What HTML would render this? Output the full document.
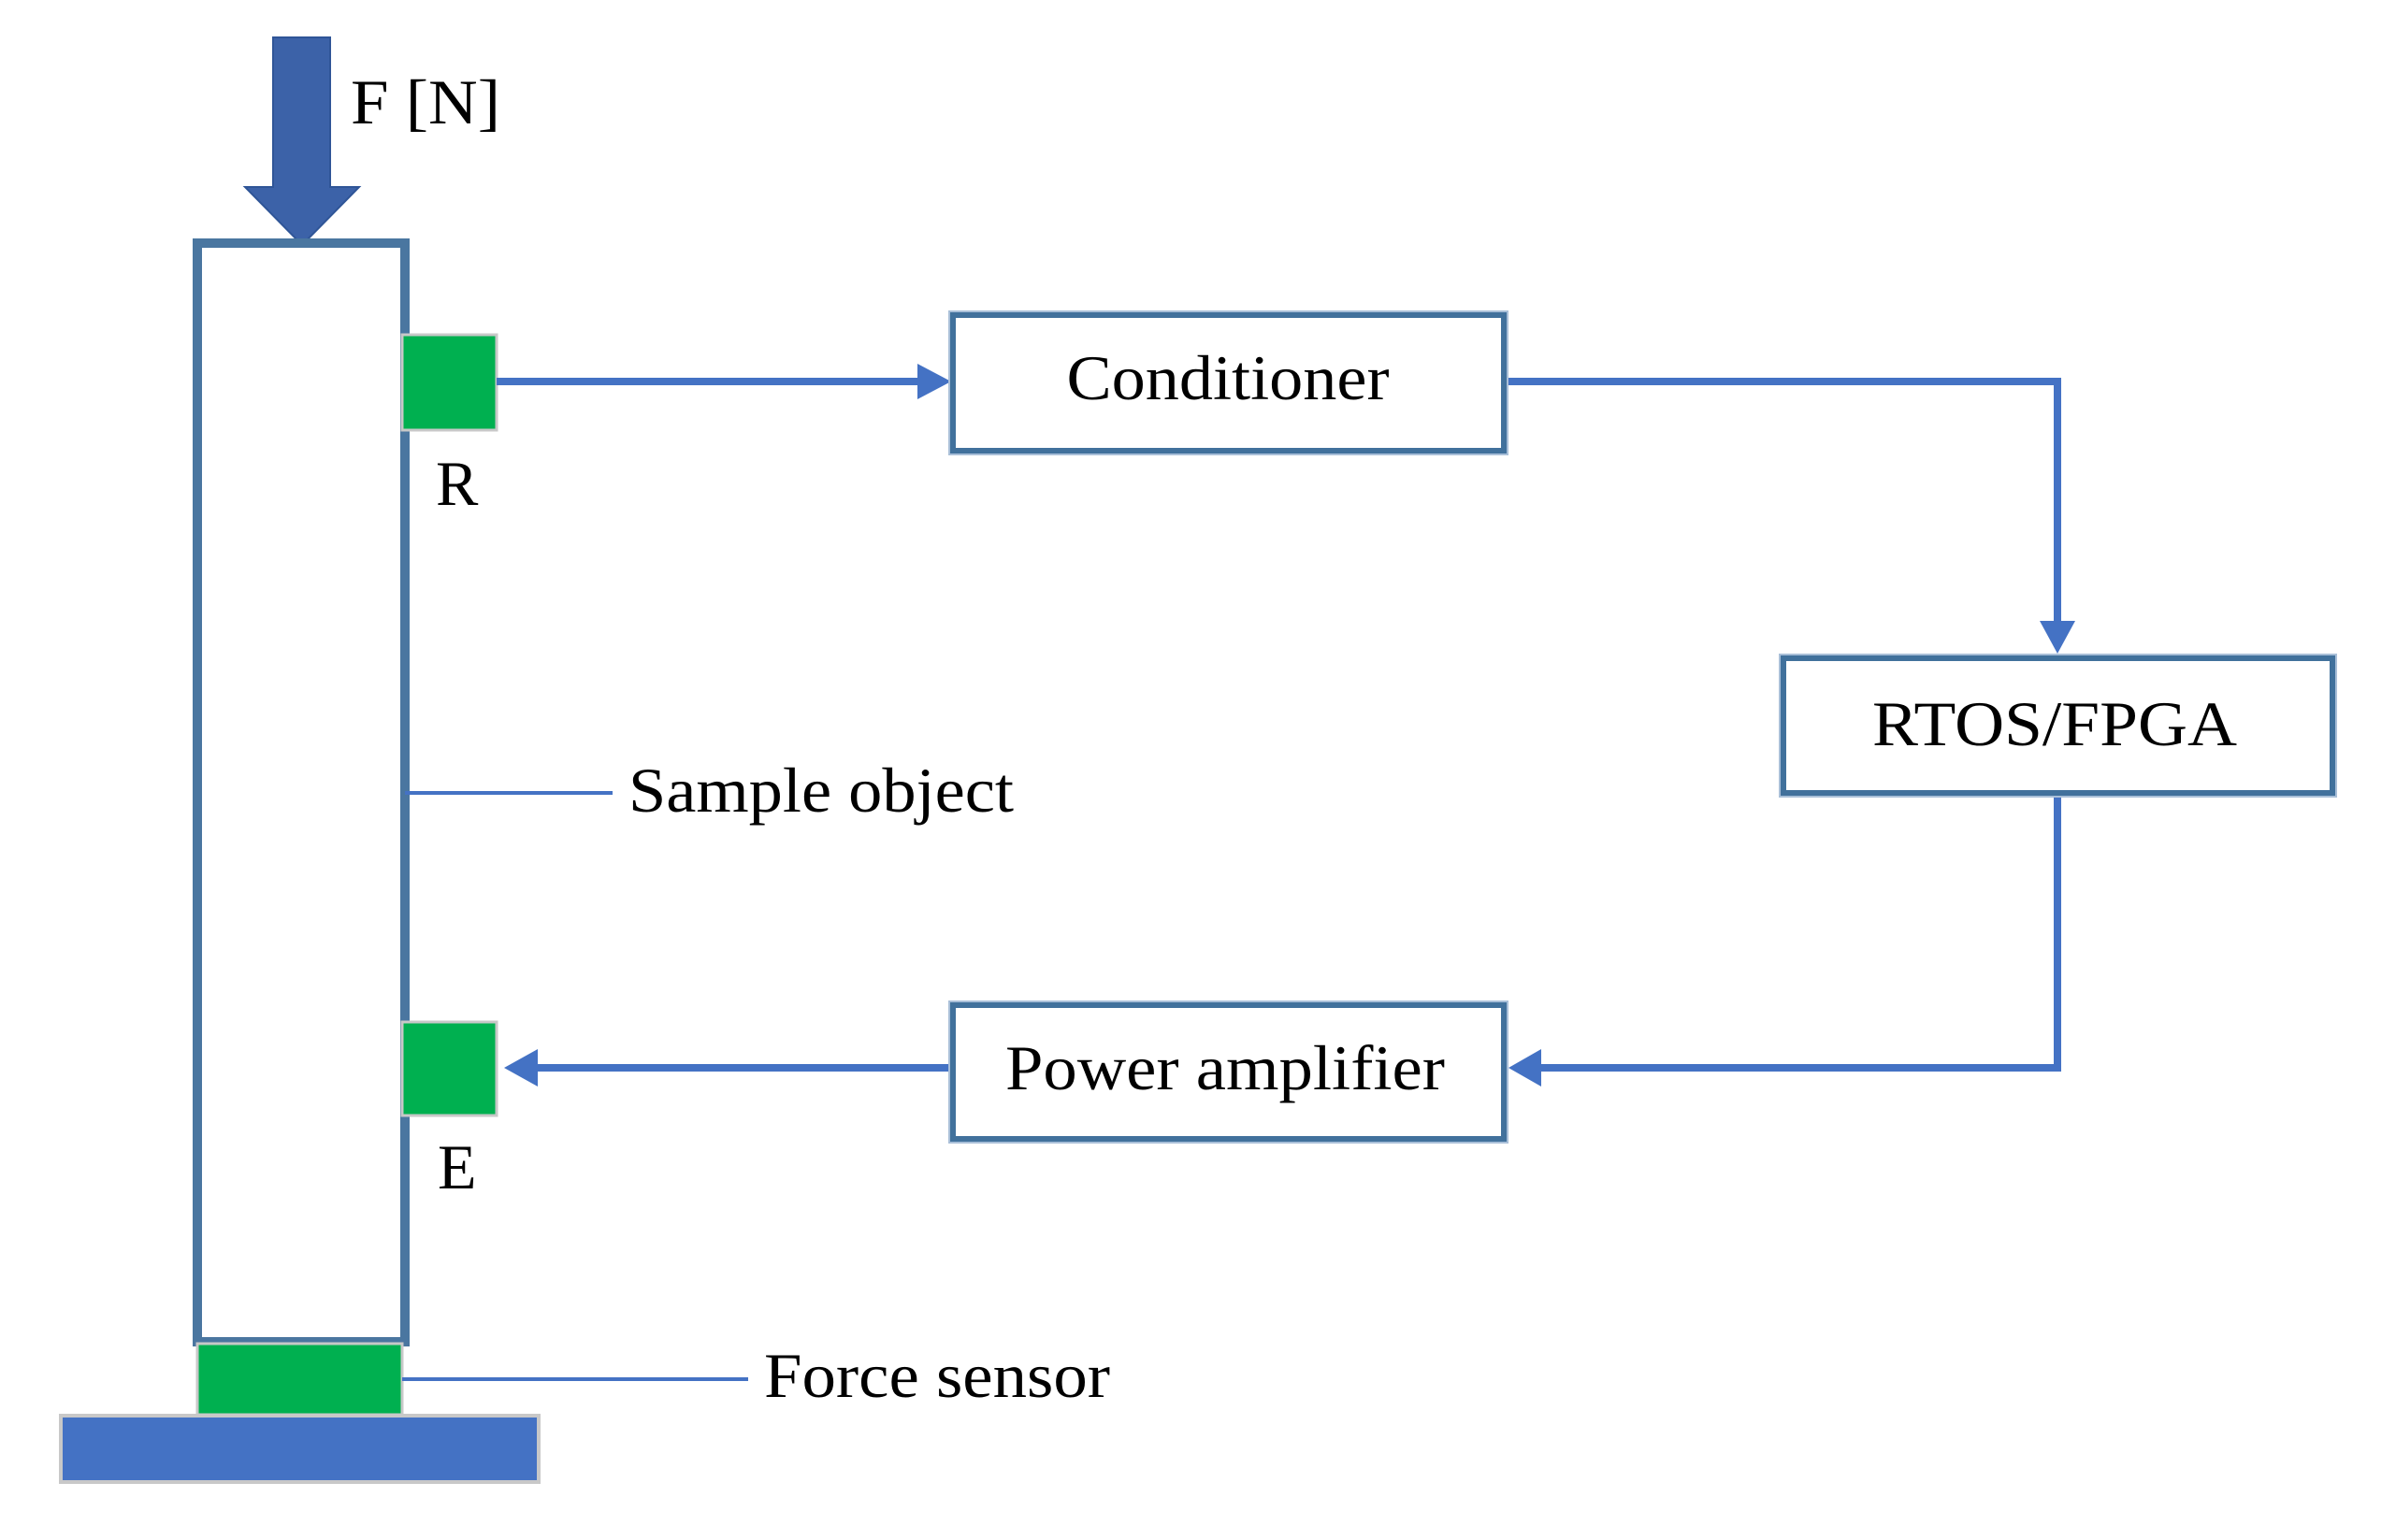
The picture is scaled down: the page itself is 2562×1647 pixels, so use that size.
<!DOCTYPE html>
<html><head><meta charset="utf-8"><style>
html,body{margin:0;padding:0;background:#fff;}
svg{display:block;}
text{font-family:"Liberation Serif",serif;fill:#000;}
</style></head><body>
<svg width="2562" height="1647" viewBox="0 0 2562 1647" xmlns="http://www.w3.org/2000/svg">
<rect width="2562" height="1647" fill="#fff"/>
<polygon points="292,40 353,40 353,200 384,200 323,262 262,200 292,200" fill="#3C62A8" stroke="#2F5597" stroke-width="2"/>
<text x="375" y="132" font-size="68" textLength="160" lengthAdjust="spacingAndGlyphs">F [N]</text>
<rect x="211" y="260" width="222" height="1175" fill="none" stroke="#4A76A0" stroke-width="10"/>
<rect x="430" y="358" width="101" height="102" fill="#00B050" stroke="#c8c8c8" stroke-width="3"/>
<rect x="430" y="1093" width="101" height="100" fill="#00B050" stroke="#c8c8c8" stroke-width="3"/>
<rect x="211" y="1437" width="219" height="76" fill="#00B050" stroke="#c8c8c8" stroke-width="3"/>
<rect x="65" y="1514" width="511" height="71" fill="#4472C4" stroke="#c8c8c8" stroke-width="4"/>
<text x="466" y="540" font-size="68">R</text>
<text x="468" y="1271" font-size="68">E</text>
<line x1="433" y1="848" x2="655" y2="848" stroke="#4472C4" stroke-width="4"/>
<text x="672" y="868" font-size="68" textLength="412" lengthAdjust="spacingAndGlyphs">Sample object</text>
<line x1="430" y1="1475" x2="800" y2="1475" stroke="#4472C4" stroke-width="4"/>
<text x="817" y="1494" font-size="68" textLength="370" lengthAdjust="spacingAndGlyphs">Force sensor</text>
<g stroke="#4472C4" stroke-width="8" fill="none">
<line x1="531" y1="408" x2="985" y2="408"/>
<polyline points="1612,408 2200,408 2200,666"/>
<polyline points="2200,851 2200,1142 1648,1142"/>
<line x1="1016" y1="1142" x2="574" y2="1142"/>
</g>
<g fill="#4472C4">
<polygon points="981,389 1017,408 981,427"/>
<polygon points="2181,664 2219,664 2200,699"/>
<polygon points="1648,1122 1648,1162 1613,1142"/>
<polygon points="575,1122 575,1162 539,1142"/>
</g>
<g fill="#fff" stroke="#41719C" stroke-width="6">
<rect x="1019" y="337" width="589" height="145"/>
<rect x="1907" y="704" width="587" height="144"/>
<rect x="1019" y="1075" width="589" height="143"/>
</g>
<g fill="none" stroke="#A9BFD8" stroke-width="2">
<rect x="1015" y="333" width="597" height="153"/>
<rect x="1903" y="700" width="595" height="152"/>
<rect x="1015" y="1071" width="597" height="151"/>
</g>
<text x="1313" y="427" font-size="68" text-anchor="middle" textLength="345" lengthAdjust="spacingAndGlyphs">Conditioner</text>
<text x="2197" y="797" font-size="68" text-anchor="middle" textLength="390" lengthAdjust="spacingAndGlyphs">RTOS/FPGA</text>
<text x="1310" y="1165" font-size="68" text-anchor="middle" textLength="470" lengthAdjust="spacingAndGlyphs">Power amplifier</text>
</svg>
</body></html>
